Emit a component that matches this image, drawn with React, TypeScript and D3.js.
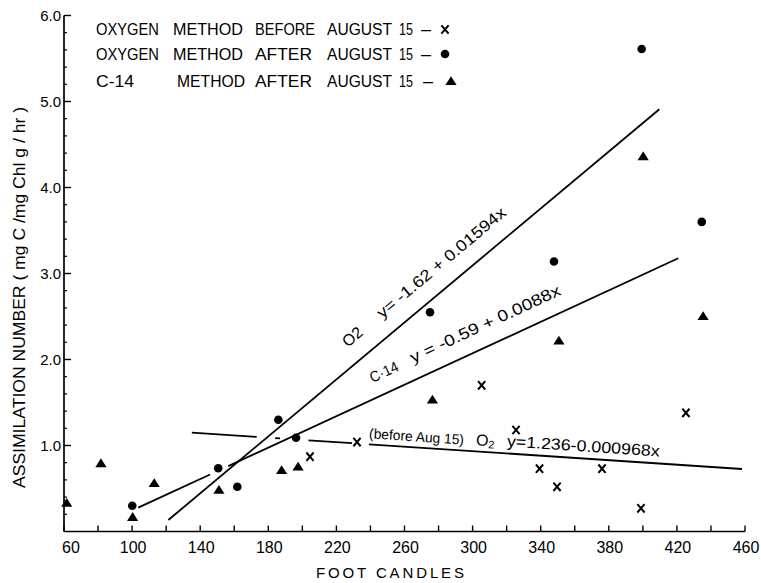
import React from "react";
import * as d3 from "d3";

const W = 761;
const H = 583;

// ---- data ----
const beforeX = [204.5, 232.1, 305.3, 325.5, 339.3, 349.6, 376.0, 398.9, 425.3];
const beforeY = [0.87, 1.04, 1.70, 1.18, 0.73, 0.52, 0.73, 0.27, 1.38];

const afterX = [100.1, 150.6, 161.8, 185.9, 196.3, 275.0, 347.8, 399.3, 434.6];
const afterY = [0.30, 0.735, 0.52, 1.30, 1.09, 2.55, 3.14, 5.61, 3.60];

const c14X = [61.6, 81.7, 113.0, 100.3, 151.0, 187.8, 197.5, 276.4, 350.7, 400.2, 435.4];
const c14Y = [0.33, 0.79, 0.56, 0.165, 0.48, 0.71, 0.75, 1.53, 2.215, 4.36, 2.50];

// fitted lines as drawn: endpoints [x0, x1], [y0, y1] and visible pieces (x ranges)
const o2LineX = [121.3, 409.7];
const o2LineY = [0.134, 4.91];
const o2Pieces = [[121.3, 409.7]];

const c14LineX = [103.6, 420.8];
const c14LineY = [0.277, 3.177];
const c14Pieces = [[103.6, 145.8], [156.5, 420.8]];

const befLineX = [135.1, 458.2];
const befLineY = [1.15, 0.727];
const befPieces = [[135.1, 173.2], [184.0, 186.9], [203.6, 229.2], [239.1, 458.2]];

const xTickValues = d3.range(60, 461, 20);
const xLabelValues = [60, 100, 140, 180, 220, 260, 300, 340, 380, 420, 460];
const yMajor = [1, 2, 3, 4, 5, 6];
const yMajorLabels = ["1.0", "2.0", "3.0", "4.0", "5.0", "6.0"];
const yMinor = d3.range(0.2, 6.0, 0.2).filter((v) => Math.abs(v - Math.round(v)) > 0.05);

const legendRows = [
  { words: ["OXYGEN", "METHOD", "BEFORE", "AUGUST", "15", "–"], marker: "cross" },
  { words: ["OXYGEN", "METHOD", "AFTER", "AUGUST", "15", "–"], marker: "circle" },
  { words: ["C-14", "METHOD", "AFTER", "AUGUST", "15", "–"], marker: "tri" },
];

const FONT = "'Liberation Sans', Arial, sans-serif";

export default function App() {
  const x = d3.scaleLinear().domain([60, 460]).range([64, 745]);
  const y = d3.scaleLinear().domain([0, 6]).range([531.5, 15.5]);

  const crossPath = "M-3.6,-4.2L3.6,4.2M3.6,-4.2L-3.6,4.2";
  const triPath = "M0,-5.2L5.6,3.6L-5.6,3.6Z";

  const lineAt = (lx: number[], ly: number[], xv: number) =>
    ly[0] + ((xv - lx[0]) / (lx[1] - lx[0])) * (ly[1] - ly[0]);

  const pieces = (lx: number[], ly: number[], ps: number[][], key: string) =>
    ps.map((p, i) => (
      <line
        key={key + i}
        x1={x(p[0])}
        y1={y(lineAt(lx, ly, p[0]))}
        x2={x(p[1])}
        y2={y(lineAt(lx, ly, p[1]))}
        stroke="#000"
        strokeWidth={1.8}
      />
    ));

  const along = (lx: number[], ly: number[], s: number, d: number) => {
    const p0 = [x(lx[0]), y(ly[0])];
    const p1 = [x(lx[1]), y(ly[1])];
    const L = Math.hypot(p1[0] - p0[0], p1[1] - p0[1]);
    const dir = [(p1[0] - p0[0]) / L, (p1[1] - p0[1]) / L];
    const nrm = [dir[1], -dir[0]];
    const ang = (Math.atan2(dir[1], dir[0]) * 180) / Math.PI;
    return {
      px: p0[0] + dir[0] * s + nrm[0] * d,
      py: p0[1] + dir[1] * s + nrm[1] * d,
      ang,
    };
  };

  const lab = (
    lx: number[],
    ly: number[],
    s: number,
    d: number,
    content: React.ReactNode,
    size: number,
    len?: number,
    key?: string
  ) => {
    const a = along(lx, ly, s, d);
    return (
      <text
        key={key}
        transform={`translate(${a.px},${a.py}) rotate(${a.ang})`}
        fontSize={size}
        fontFamily={FONT}
        textLength={len}
        lengthAdjust={len ? "spacingAndGlyphs" : undefined}
      >
        {content}
      </text>
    );
  };

  const colsRow = [
    [[96, 159], [173, 243], [255, 315], [327, 392], [399, 413], [421, 431]],
    [[96, 159], [173, 243], [255, 312], [327, 392], [399, 413], [421, 431]],
    [[96, 134], [177, 245], [255, 312], [327, 392], [399, 413], [423, 433]],
  ];
  const legendBase = [34.5, 60, 86.5];
  const legendMarkX = [445, 445, 451];

  return (
    <svg width={W} height={H} style={{ display: "block", position: "absolute", left: 0, top: 0 }}>
      <rect width={W} height={H} fill="#fff" />

      {/* axes */}
      <line x1={x(60)} y1={y(6)} x2={x(60)} y2={y(0)} stroke="#000" strokeWidth={1.7} />
      <line x1={x(60)} y1={y(0)} x2={x(460)} y2={y(0)} stroke="#000" strokeWidth={1.7} />
      {xTickValues.map((v) => (
        <line key={"xt" + v} x1={x(v)} x2={x(v)} y1={y(0)} y2={y(0) - 6} stroke="#000" strokeWidth={1.4} />
      ))}
      {xLabelValues.map((v) => (
        <text
          key={"xl" + v}
          x={x(v) + (v === 60 ? 7 : 1)}
          y={553}
          textAnchor="middle"
          fontSize={16}
          fontFamily={FONT}
        >
          {v}
        </text>
      ))}
      {yMajor.map((v, i) => (
        <g key={"ym" + v}>
          <line x1={x(60)} x2={x(60) + 7} y1={y(v)} y2={y(v)} stroke="#000" strokeWidth={1.4} />
          <text x={61} y={y(v)} dy="0.36em" textAnchor="end" fontSize={15} fontFamily={FONT}>
            {yMajorLabels[i]}
          </text>
        </g>
      ))}
      {yMinor.map((v) => (
        <line key={"yn" + v.toFixed(1)} x1={x(60)} x2={x(60) + 3} y1={y(v)} y2={y(v)} stroke="#000" strokeWidth={1.2} />
      ))}

      {/* axis titles */}
      <text
        transform="translate(25,297.5) rotate(-90)"
        textAnchor="middle"
        fontSize={16}
        fontFamily={FONT}
        textLength={381}
        lengthAdjust="spacingAndGlyphs"
      >
        ASSIMILATION NUMBER ( mg C /mg Chl g / hr )
      </text>
      <text x={316} y={578} fontSize={15} fontFamily={FONT} textLength={148} lengthAdjust="spacing">
        FOOT CANDLES
      </text>

      {/* legend */}
      {legendRows.map((row, r) => (
        <g key={"lg" + r}>
          {row.words.map((w, k) => (
            <text
              key={k}
              x={colsRow[r][k][0]}
              y={legendBase[r]}
              fontSize={16}
              fontFamily={FONT}
              textLength={colsRow[r][k][1] - colsRow[r][k][0]}
              lengthAdjust="spacingAndGlyphs"
            >
              {w}
            </text>
          ))}
          {row.marker === "cross" && (
            <path d={crossPath} transform={`translate(${legendMarkX[r]},${legendBase[r] - 5})`} stroke="#000" strokeWidth={2} fill="none" />
          )}
          {row.marker === "circle" && <circle cx={legendMarkX[r]} cy={legendBase[r] - 6} r={4.3} fill="#000" />}
          {row.marker === "tri" && (
            <path d={triPath} transform={`translate(${legendMarkX[r]},${legendBase[r] - 5})`} fill="#000" />
          )}
        </g>
      ))}

      {/* fitted lines */}
      {pieces(o2LineX, o2LineY, o2Pieces, "o2")}
      {pieces(c14LineX, c14LineY, c14Pieces, "c14")}
      {pieces(befLineX, befLineY, befPieces, "bef")}

      {/* line labels */}
      {lab(o2LineX, o2LineY, 248, 17, "O2", 16, undefined, "o2a")}
      {lab(o2LineX, o2LineY, 293, 17, "y= -1.62 + 0.01594x", 16, 163, "o2b")}
      {lab(c14LineX, c14LineY, 265, 15, "C·14", 15, 30, "c1a")}
      {lab(c14LineX, c14LineY, 310, 16, "y = -0.59 + 0.0088x", 16, 164, "c1b")}
      {lab(befLineX, befLineY, 177, 6, "(before Aug 15)", 14, 95, "b1")}
      {lab(
        befLineX,
        befLineY,
        284,
        6,
        <>
          O<tspan fontSize={11} dy={2}>2</tspan>
        </>,
        16,
        undefined,
        "b2"
      )}
      {lab(befLineX, befLineY, 315, 7, "y=1.236-0.000968x", 16, 153, "b3")}

      {/* points */}
      {beforeX.map((v, i) => (
        <path key={"bx" + i} d={crossPath} transform={`translate(${x(v)},${y(beforeY[i])})`} stroke="#000" strokeWidth={2} fill="none" />
      ))}
      {afterX.map((v, i) => (
        <circle key={"ac" + i} cx={x(v)} cy={y(afterY[i])} r={4.3} fill="#000" />
      ))}
      {c14X.map((v, i) => (
        <path key={"ct" + i} d={triPath} transform={`translate(${x(v)},${y(c14Y[i])})`} fill="#000" />
      ))}
    </svg>
  );
}
